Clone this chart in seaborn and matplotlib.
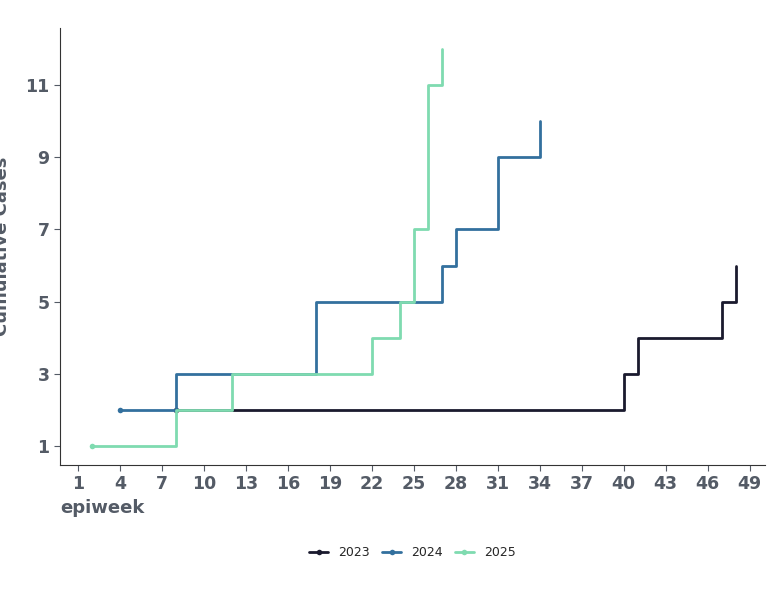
import matplotlib
matplotlib.use("Agg")
import matplotlib.pyplot as plt
import seaborn as sns
import pandas as pd

weeks_2023 = [8, 40, 41, 47, 48]
cases_2023 = [2, 3, 4, 5, 6]
weeks_2024 = [4, 8, 18, 27, 28, 31, 34]
cases_2024 = [2, 3, 5, 6, 7, 9, 10]
weeks_2025 = [2, 8, 12, 22, 24, 25, 26, 27]
cases_2025 = [1, 2, 3, 4, 5, 7, 11, 12]

series = {"2023": (weeks_2023, cases_2023, "#1a1a2e"),
          "2024": (weeks_2024, cases_2024, "#33709e"),
          "2025": (weeks_2025, cases_2025, "#7fdbb0")}

sns.set_style("white")
fig, ax = plt.subplots(figsize=(7.68, 5.97), dpi=100)

for name, (w, c, col) in series.items():
    df = pd.DataFrame({"epiweek": w, "cases": c})
    sns.lineplot(data=df, x="epiweek", y="cases", drawstyle="steps-post",
                 color=col, linewidth=2, ax=ax, label=name,
                 marker="o", markevery=[0], markersize=4, markeredgewidth=0)

grey = "#545b66"
ax.set_xlim(-0.3, 50.1)
ax.set_ylim(0.47, 12.58)
ax.set_xticks(range(1, 50, 3))
ax.set_yticks([1, 3, 5, 7, 9, 11])
ax.tick_params(axis="both", labelsize=12.5, colors=grey, length=4, direction="out",
               bottom=True, left=True)
for t in ax.get_xticklabels() + ax.get_yticklabels():
    t.set_fontweight("bold")
ax.set_xlabel("epiweek", fontsize=13, fontweight="bold", color=grey, loc="left")
ax.set_ylabel("Cumulative Cases", fontsize=13, fontweight="bold", color=grey, labelpad=10)
for s in ["top", "right"]:
    ax.spines[s].set_visible(False)
for s in ["left", "bottom"]:
    ax.spines[s].set_color("#333333")

ax.legend(loc="upper center", bbox_to_anchor=(0.5, -0.16), ncol=3, frameon=False,
          fontsize=9, handlelength=1.5, columnspacing=1.0)

fig.subplots_adjust(left=0.078, right=0.996, top=0.953, bottom=0.221)
fig.savefig("out.png", dpi=100)
